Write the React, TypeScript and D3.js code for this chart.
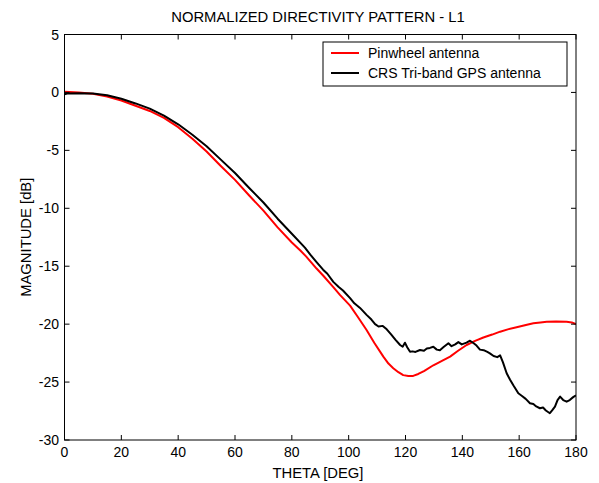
import React from "react";
import * as d3 from "d3";

const title = "NORMALIZED DIRECTIVITY PATTERN - L1";
const xLabel = "THETA [DEG]";
const yLabel = "MAGNITUDE [dB]";
const xTicks = [0, 20, 40, 60, 80, 100, 120, 140, 160, 180];
const yTicks = [5, 0, -5, -10, -15, -20, -25, -30];
const seriesNames = ["Pinwheel antenna", "CRS Tri-band GPS antenna"];
const seriesColors = ["#ff0000", "#000000"];

const pinwheelTheta = [0, 5, 10, 15, 20, 25, 30, 35, 40, 45, 50, 55, 60, 65, 70, 75, 80, 83, 85, 88.7, 91, 94.6, 97, 100.5, 103, 106.3, 109, 112.2, 114, 115.7, 117.5, 119.2, 121, 122.7, 124.5, 126.5, 129.8, 133, 135.7, 138.5, 141.5, 144.5, 147.4, 150.5, 153.3, 156, 159.1, 162, 165, 167.5, 169.7, 173, 176.7, 178.5, 180];
const pinwheelDb = [0.05, 0.0, -0.12, -0.35, -0.7, -1.15, -1.6, -2.2, -3.0, -4.0, -5.1, -6.35, -7.55, -8.9, -10.2, -11.65, -12.95, -13.65, -14.15, -15.2, -15.8, -16.8, -17.5, -18.4, -19.3, -20.5, -21.6, -22.8, -23.4, -23.8, -24.15, -24.4, -24.48, -24.47, -24.3, -24.05, -23.55, -23.15, -22.8, -22.3, -21.8, -21.45, -21.15, -20.9, -20.65, -20.45, -20.27, -20.1, -19.93, -19.85, -19.79, -19.78, -19.79, -19.85, -20.0];

const crsTheta = [0, 1, 5, 10, 15, 20, 25, 30, 35, 40, 45, 50, 55, 60, 65, 70, 75, 80, 84.6, 86.5, 88.7, 91, 92.5, 94.6, 96.5, 98, 100.5, 102, 104, 106.3, 108, 109.3, 110.5, 112, 113.4, 115, 116.5, 118.1, 119, 119.8, 120.6, 121.6, 122.5, 123.5, 125.1, 126.5, 127.5, 128.6, 129.8, 131, 132.1, 133.3, 135.1, 136.2, 137.5, 138.6, 139.8, 141.5, 142.7, 144, 145, 146.2, 147.5, 148.8, 149.7, 151, 152.3, 153.3, 154.3, 155.6, 156.8, 158, 159.7, 161, 162.3, 163.8, 165, 166, 167.3, 168.4, 169.4, 170.8, 171.6, 172.6, 173.5, 174.4, 175.5, 176.7, 177.8, 179, 180];
const crsDb = [-0.15, -0.1, -0.08, -0.1, -0.25, -0.55, -0.95, -1.4, -2.0, -2.75, -3.65, -4.65, -5.8, -6.95, -8.25, -9.5, -10.9, -12.2, -13.4, -14.0, -14.65, -15.3, -15.65, -16.35, -16.8, -17.1, -17.75, -18.2, -18.6, -19.2, -19.6, -20.0, -20.2, -20.15, -20.45, -20.9, -21.35, -21.8, -21.95, -21.6, -22.0, -22.38, -22.35, -22.4, -22.23, -22.3, -22.1, -22.05, -21.95, -22.2, -22.25, -22.0, -21.65, -21.9, -21.75, -21.55, -21.75, -21.6, -21.43, -21.65, -21.85, -22.2, -22.25, -22.4, -22.52, -22.75, -22.85, -22.7, -23.3, -24.24, -24.8, -25.3, -25.97, -26.2, -26.45, -26.83, -26.9, -27.1, -27.26, -27.2, -27.45, -27.69, -27.45, -27.12, -26.55, -26.26, -26.55, -26.69, -26.55, -26.3, -26.15];

export default function App() {
  const W = 599;
  const H = 483;
  const left = 64.5;
  const right = 576;
  const top = 34.5;
  const bottom = 440;
  const x = d3.scaleLinear().domain([0, 180]).range([left, right]);
  const y = d3.scaleLinear().domain([-30, 5]).range([bottom, top]);
  const font = "'Liberation Sans', Arial, Helvetica, sans-serif";
  const line = d3
    .line<[number, number]>()
    .x((d) => x(d[0]))
    .y((d) => y(d[1]));
  const redData: [number, number][] = pinwheelTheta.map((t, i) => [t, pinwheelDb[i]]);
  const blackData: [number, number][] = crsTheta.map((t, i) => [t, crsDb[i]]);
  const tickLen = 5;
  const legX = 323;
  const legY = 42;
  const legW = 244;
  const legH = 44;

  return (
    <svg
      width={W}
      height={H}
      style={{ position: "absolute", left: 0, top: 0, background: "#fff" }}
      fontFamily={font}
    >
      <rect x={0} y={0} width={W} height={H} fill="#fff" />
      <defs>
        <clipPath id="plotclip">
          <rect x={left} y={top} width={right - left} height={bottom - top} />
        </clipPath>
      </defs>
      <g clipPath="url(#plotclip)">
        <path d={line(redData) || ""} fill="none" stroke={seriesColors[0]} strokeWidth={2} strokeLinejoin="round" />
        <path d={line(blackData) || ""} fill="none" stroke={seriesColors[1]} strokeWidth={2} strokeLinejoin="round" />
      </g>
      <rect x={left} y={top} width={right - left} height={bottom - top} fill="none" stroke="#000" strokeWidth={1} />
      {xTicks.map((t) => (
        <g key={"x" + t}>
          <line x1={x(t)} x2={x(t)} y1={bottom} y2={bottom - tickLen} stroke="#000" />
          <line x1={x(t)} x2={x(t)} y1={top} y2={top + tickLen} stroke="#000" />
          <text x={x(t)} y={457} textAnchor="middle" fontSize={14} fill="#000">
            {t}
          </text>
        </g>
      ))}
      {yTicks.map((t) => (
        <g key={"y" + t}>
          <line x1={left} x2={left + tickLen} y1={y(t)} y2={y(t)} stroke="#000" />
          <line x1={right} x2={right - tickLen} y1={y(t)} y2={y(t)} stroke="#000" />
          <text x={59} y={y(t) + 5} textAnchor="end" fontSize={14} fill="#000">
            {t}
          </text>
        </g>
      ))}
      <text x={318} y={22} textAnchor="middle" fontSize={14.8} fill="#000">
        {title}
      </text>
      <text x={318} y={478} textAnchor="middle" fontSize={14.8} fill="#000">
        {xLabel}
      </text>
      <text
        transform={`translate(31, ${(top + bottom) / 2}) rotate(-90)`}
        textAnchor="middle"
        fontSize={14.8}
        fill="#000"
      >
        {yLabel}
      </text>
      <rect x={legX} y={legY} width={legW} height={legH} fill="#fff" stroke="#000" strokeWidth={1} />
      {seriesNames.map((n, i) => (
        <g key={n}>
          <line x1={331} x2={359} y1={53 + i * 20} y2={53 + i * 20} stroke={seriesColors[i]} strokeWidth={2} />
          <text x={368} y={58 + i * 20} fontSize={14} fill="#000">
            {n}
          </text>
        </g>
      ))}
    </svg>
  );
}
